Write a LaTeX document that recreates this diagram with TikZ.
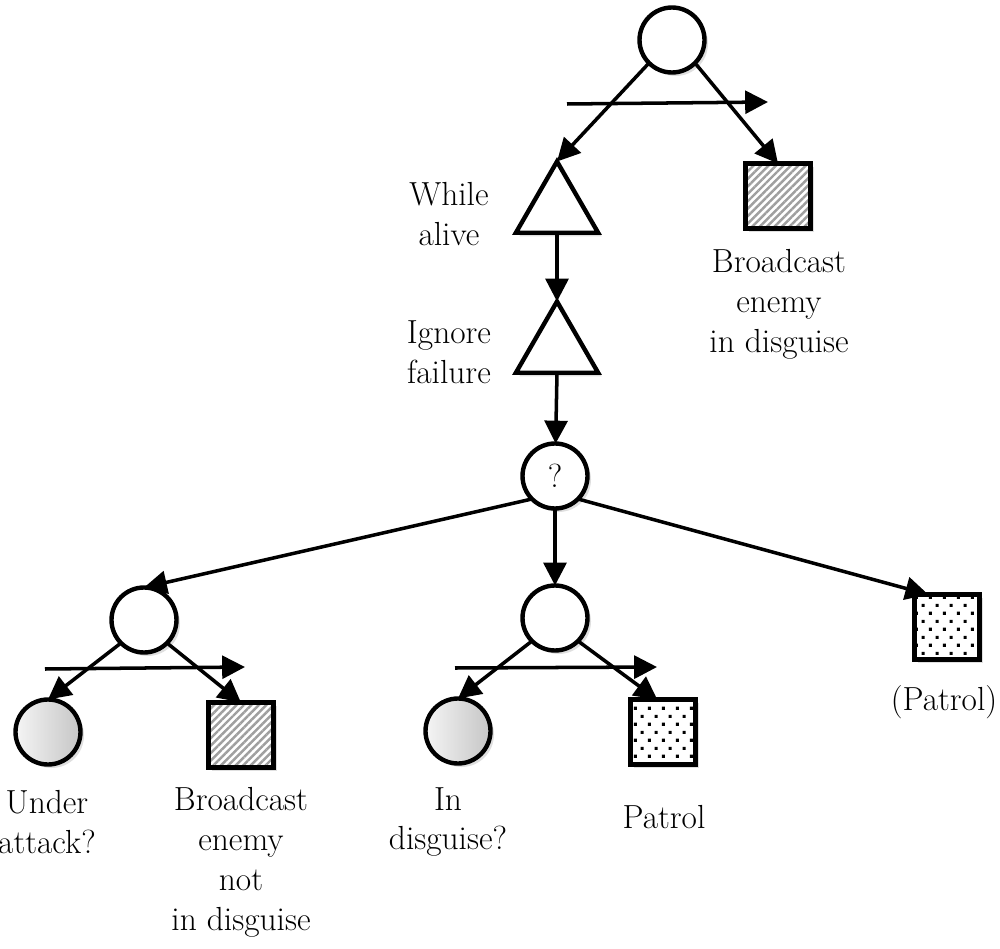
\documentclass[tikz,border=0pt]{standalone}
\usepackage{fontspec}
\usetikzlibrary{shapes.geometric,arrows.meta,patterns,patterns.meta,shadows}

\pgfdeclarepatternformonly{patroldots}{\pgfqpoint{0pt}{0pt}}{\pgfqpoint{8pt}{9pt}}{\pgfqpoint{8pt}{9pt}}{%
  \pgfpathrectangle{\pgfqpoint{1.2pt}{1.2pt}}{\pgfqpoint{1.8pt}{1.8pt}}%
  \pgfpathrectangle{\pgfqpoint{5.2pt}{5.7pt}}{\pgfqpoint{1.8pt}{1.8pt}}%
  \pgfusepath{fill}}

\begin{document}
\begin{tikzpicture}[x=0.02cm,y=-0.02cm,inner sep=0pt,outer sep=0pt,line width=2pt,
>={Triangle[length=13pt,width=13pt]},
font=\fontsize{19}{22.7}\selectfont,
task/.style={draw,line width=2.5pt,drop shadow={shadow xshift=2pt,shadow yshift=-2pt,opacity=.25}},
ctrl/.style={task,circle,fill=white,minimum size=1.3cm},
cond/.style={task,circle,minimum size=1.3cm,left color=gray!8,right color=gray!45},
deco/.style={task,fill=white,regular polygon,regular polygon sides=3,minimum size=1.9cm},
hatched/.style={task,rectangle,minimum size=1.3cm,preaction={fill=white},pattern={Lines[angle=45,distance=3pt,line width=1.4pt]},pattern color=gray!75},
patrolbox/.style={task,rectangle,minimum size=1.3cm,preaction={fill=white},pattern=patroldots},
txt/.style={align=center}]
\useasboundingbox (0,0) rectangle (1000,949);

% behaviour tree nodes
\draw (672,40) node[ctrl] (root) {};
\draw (557,209) node[deco] (alive) {};
\draw (557,349) node[deco] (ignore) {};
\draw (778,196) node[hatched] (bcast) {};
\draw (555,476) node[ctrl] (sel) {?};
\draw (144,620) node[ctrl] (seqL) {};
\draw (555,618) node[ctrl] (seqM) {};
\draw (947,627) node[patrolbox] (patR) {};
\draw (48,732) node[cond] (attack) {};
\draw (241,735) node[hatched] (bcastnot) {};
\draw (458,731) node[cond] (disguise) {};
\draw (663,732) node[patrolbox] (patrol) {};

% labels
\draw (449,214) node[txt] (alivelbl) {While\\alive};
\draw (449,352) node[txt] (ignorelbl) {Ignore\\failure};
\draw (779,304) node[txt] (bcastlbl) {Broadcast\\enemy\\in disguise};
\draw (47,822) node[txt] (attacklbl) {Under\\attack?};
\draw (241,862) node[txt] (bcastnotlbl) {Broadcast\\enemy\\not\\in disguise};
\draw (448,822) node[txt] (disguiselbl) {In\\disguise?};
\draw (664,817) node[txt] (patrollbl) {Patrol};
\draw (944,702) node[txt] (patRlbl) {(Patrol)};

% sequence order arrows
\coordinate (ordA1) at (567,104);
\coordinate (ordA2) at (768,102);
\coordinate (ordB1) at (45,669);
\coordinate (ordB2) at (245,667);
\coordinate (ordC1) at (455,668);
\coordinate (ordC2) at (657,667);
\draw[->] (ordA1) -- (ordA2);
\draw[->] (ordB1) -- (ordB2);
\draw[->] (ordC1) -- (ordC2);

% connectors
\draw[->] (root.225) -- (alive.corner 1);
\draw[->] (root.-45) -- (bcast.north);
\draw[->] (alive.south) -- (ignore.corner 1);
\draw[->] (ignore.south) -- (sel);
\draw[->] (sel.225) -- (seqL.north);
\draw[->] (sel) -- (seqM);
\draw[->] (sel.-45) -- (patR.120);
\draw[->] (seqL.225) -- (attack.north);
\draw[->] (seqL.-45) -- (bcastnot.north);
\draw[->] (seqM.225) -- (disguise.north);
\draw[->] (seqM.-45) -- (patrol.100);
\end{tikzpicture}
\end{document}
